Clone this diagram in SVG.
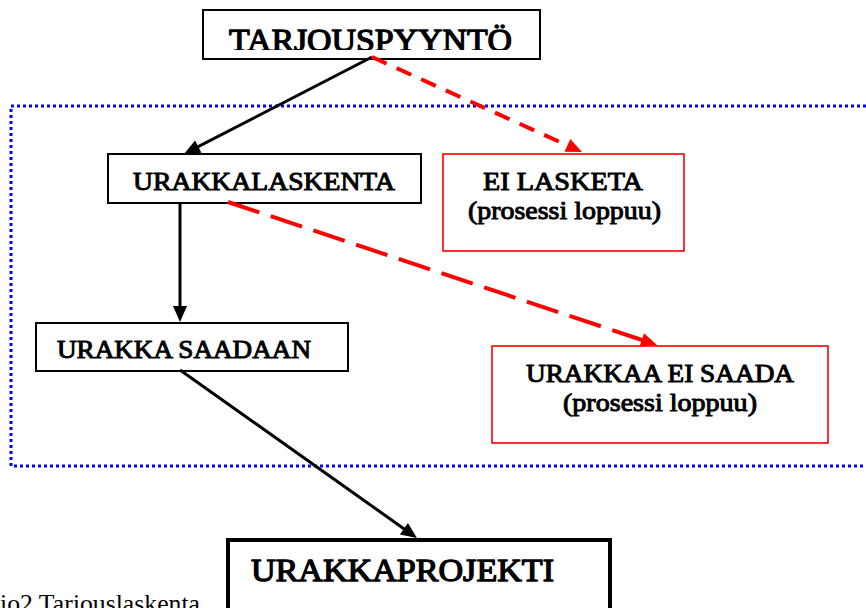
<svg xmlns="http://www.w3.org/2000/svg" width="866" height="608" viewBox="0 0 866 608">
<defs>
<style>
.bx{fill:#fff;stroke:#000;stroke-width:2}
.rbx{fill:#fff;stroke:#ff0000;stroke-width:1.6}
.blk{fill:none;stroke:#000;stroke-width:3}
.red{fill:none;stroke:#ff0000;stroke-width:4}
</style>
<marker id="ab" markerUnits="userSpaceOnUse" markerWidth="16" markerHeight="14" refX="6" refY="7" orient="auto" overflow="visible">
<path d="M0,0 L16,7 L0,14 z" fill="#000"/>
</marker>
<marker id="ar" markerUnits="userSpaceOnUse" markerWidth="16" markerHeight="14" refX="6" refY="7" orient="auto" overflow="visible">
<path d="M0,0 L16,7 L0,14 z" fill="#ff0000"/>
</marker>
<clipPath id="clipTop"><rect x="200" y="0" width="345" height="50"/></clipPath>
</defs>
<rect width="866" height="608" fill="#fff"/>

<path d="M866,106 H11 V466 H866" fill="none" stroke="#0000ff" stroke-width="3" stroke-dasharray="3 3"/>

<g id="tarjouspyynto">
<rect class="bx" x="203" y="10" width="337" height="49"/>
</g>
<g id="urakkalaskenta">
<rect class="bx" x="108" y="154" width="313" height="49"/>
</g>
<g id="ei-lasketa">
<rect class="rbx" x="443" y="154" width="241" height="97"/>
</g>
<g id="urakka-saadaan">
<rect class="bx" x="36" y="323" width="312" height="48"/>
</g>
<g id="urakkaa-ei-saada">
<rect class="rbx" x="492" y="346" width="336" height="97"/>
</g>
<g id="urakkaprojekti">
<rect x="228" y="540" width="382" height="90" fill="#fff" stroke="#000" stroke-width="4"/>
</g>

<g id="labels" font-family="Liberation Serif, Times New Roman, serif" font-size="26" fill="#000" stroke="#000" stroke-width="1" stroke-linejoin="round" lengthAdjust="spacingAndGlyphs">
<text x="229" y="50.5" font-size="32" stroke-width="1.3" textLength="283" lengthAdjust="spacingAndGlyphs" clip-path="url(#clipTop)">TARJOUSPYYNTÖ</text>
<text x="133" y="190" textLength="262" lengthAdjust="spacingAndGlyphs">URAKKALASKENTA</text>
<text x="483" y="190" textLength="160" lengthAdjust="spacingAndGlyphs">EI LASKETA</text>
<text x="468" y="219" textLength="193" lengthAdjust="spacingAndGlyphs">(prosessi loppuu)</text>
<text x="57" y="358" textLength="254" lengthAdjust="spacingAndGlyphs">URAKKA SAADAAN</text>
<text x="526" y="382" textLength="268" lengthAdjust="spacingAndGlyphs">URAKKAA EI SAADA</text>
<text x="563" y="411" textLength="194" lengthAdjust="spacingAndGlyphs">(prosessi loppuu)</text>
<text x="251" y="581" font-size="32" stroke-width="1.3" textLength="303" lengthAdjust="spacingAndGlyphs">URAKKAPROJEKTI</text>
</g>

<g id="caption">
<text x="0" y="612" font-family="Liberation Serif, Times New Roman, serif" font-size="25" fill="#000" textLength="200" lengthAdjust="spacingAndGlyphs">io2 Tarjouslaskenta</text>
</g>

<g id="connectors">
<line class="blk" x1="372" y1="57" x2="192.9" y2="149.4" marker-end="url(#ab)"/>
<line class="red" x1="372" y1="57" x2="572.9" y2="147.9" stroke-dasharray="16 11" marker-end="url(#ar)"/>
<line class="blk" x1="180" y1="203" x2="180" y2="312" marker-end="url(#ab)"/>
<line class="red" x1="228" y1="202" x2="647.5" y2="341.8" stroke-dasharray="33 12" marker-end="url(#ar)"/>
<line class="blk" x1="180" y1="370" x2="408.8" y2="532.2" stroke-width="4.5" marker-end="url(#ab)"/>
</g>
</svg>
